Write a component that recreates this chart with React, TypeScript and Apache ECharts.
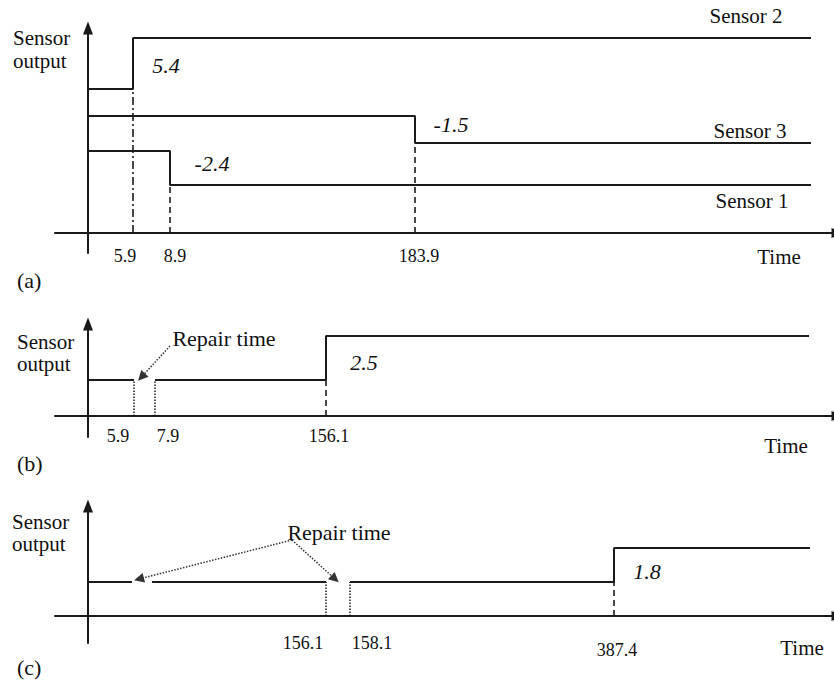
import React, { useEffect, useRef } from 'react';
import * as echarts from 'echarts';

// ---------------- DATA ----------------
// Panel (a): three sensors, each with one step change
const sensorNamesA = ['Sensor 1', 'Sensor 2', 'Sensor 3'];
const changeTimesA = [8.9, 5.9, 183.9];
const changeValuesA = ['-2.4', '5.4', '-1.5'];
// schematic (not-to-scale) output levels before / after the change
const levelBeforeA = [82, 144, 117];
const levelAfterA = [48, 195, 90];
const tickTimesA = [5.9, 8.9, 183.9];

// Panel (b): one repair, then one step change
const repairsB = [[5.9, 7.9]];
const changeTimeB = 156.1;
const changeValueB = '2.5';
const levelsB = [36, 80];
const tickTimesB = [5.9, 7.9, 156.1];

// Panel (c): two repairs, then one step change
const repairsC = [[5.9, 7.9], [156.1, 158.1]];
const changeTimeC = 387.4;
const changeValueC = '1.8';
const levelsC = [34, 68];
const tickTimesC = [156.1, 158.1, 387.4];

// ---------------- LAYOUT (schematic axis, not to scale) ----------------
const END = Infinity;
const FONT = 'Liberation Serif';
const INK = '#1a1a1a';

const panels = [
  { top: 28, axisY: 233, bottomY: 253, knots: [[0, 0], [5.9, 45], [8.9, 82], [183.9, 327]], end: 723 },
  { top: 324, axisY: 416, bottomY: 437, knots: [[0, 0], [5.9, 46], [7.9, 67], [156.1, 238]], end: 721 },
  { top: 506, axisY: 616, bottomY: 643, knots: [[0, 0], [5.9, 44], [7.9, 64], [156.1, 238], [158.1, 262], [387.4, 526]], end: 722 },
];

function X(p: number, t: number): number {
  const P = panels[p];
  if (t === END) return P.end;
  const k = P.knots;
  for (let i = 1; i < k.length; i++) {
    if (t <= k[i][0]) {
      const f = (t - k[i - 1][0]) / (k[i][0] - k[i - 1][0]);
      return k[i - 1][1] + f * (k[i][1] - k[i - 1][1]);
    }
  }
  return k[k.length - 1][1];
}

const dropStyleA: any[] = ['dashed', [8, 3, 2, 3], 'dashed'];
const jumpOffsetA = [[42, -5], [33, 2], [36, -5]];
const jumpOffsetB = [38, 4];
const jumpOffsetC = [33, 6];
const tickOffsets = [
  [[-8, 23], [5, 23], [4, 23]],
  [[-16, 20], [13, 20], [3, 20]],
  [[-23, 27], [22, 27], [3, 34]],
];
const markedRepairsB = [true];
const markedRepairsC = [false, true];
const arrowStartB = [82, 70];
const arrowStartC = [204, 76];
const arrowTipShift = [-3, 3];

const DASH = [6, 4];

function lineSeries(p: number, data: number[][], type: any = 'solid', width = 2) {
  return {
    type: 'line',
    xAxisIndex: p,
    yAxisIndex: p,
    data,
    symbol: 'none',
    silent: true,
    lineStyle: { color: INK, width, type },
    z: 3,
  };
}

function textSeries(p: number, items: { x: number; y: number; text: string; offset: number[] }[], italic: boolean, size: number) {
  return {
    type: 'scatter',
    xAxisIndex: p,
    yAxisIndex: p,
    symbolSize: 0,
    silent: true,
    itemStyle: { color: 'rgba(0,0,0,0)', opacity: 1 },
    data: items.map((it) => ({
      value: [it.x, it.y],
      name: it.text,
      label: { offset: it.offset },
    })),
    label: {
      show: true,
      position: 'inside',
      formatter: (d: any) => d.name,
      fontFamily: FONT,
      fontSize: size,
      fontStyle: italic ? 'italic' : 'normal',
      color: '#111',
      opacity: 1,
      textBorderWidth: 0,
    },
    z: 5,
  };
}

function repairPanelSeries(p: number, repairs: number[][], marked: boolean[], changeT: number, levels: number[]) {
  const s: any[] = [];
  const starts = [0, ...repairs.map((r) => r[1])];
  const ends = [...repairs.map((r) => r[0]), changeT];
  starts.forEach((st, i) => {
    const pts = [[X(p, st), levels[0]], [X(p, ends[i]), levels[0]]];
    if (i === starts.length - 1) {
      pts.push([X(p, changeT), levels[1]], [X(p, END), levels[1]]);
    }
    s.push(lineSeries(p, pts));
  });
  repairs.forEach((r, i) => {
    if (!marked[i]) return;
    r.forEach((t) => s.push(lineSeries(p, [[X(p, t), 0], [X(p, t), levels[0]]], 'dotted', 1.5)));
  });
  s.push(lineSeries(p, [[X(p, changeT), 0], [X(p, changeT), levels[0]]], DASH, 1.6));
  return s;
}

function arrowSeries(p: number, start: number[], repairs: number[][], level: number) {
  return {
    type: 'lines',
    coordinateSystem: 'cartesian2d',
    xAxisIndex: p,
    yAxisIndex: p,
    silent: true,
    symbol: ['none', 'triangle'],
    symbolSize: 10,
    lineStyle: { color: '#333', width: 1.5, type: 'dotted', opacity: 1, curveness: 0 },
    data: repairs.map((r) => ({
      coords: [start, [X(p, (r[0] + r[1]) / 2) + arrowTipShift[0], level + arrowTipShift[1]]],
    })),
    z: 4,
  };
}

function buildOption(): any {
  const series: any[] = [];

  // Panel (a)
  sensorNamesA.forEach((name, i) => {
    const t = changeTimesA[i];
    const b = levelBeforeA[i];
    const a = levelAfterA[i];
    series.push({ ...lineSeries(0, [[X(0, 0), b], [X(0, t), b], [X(0, t), a], [X(0, END), a]]), name });
    series.push(lineSeries(0, [[X(0, t), 0], [X(0, t), Math.min(a, b)]], dropStyleA[i] === 'dashed' ? DASH : dropStyleA[i], 1.6));
  });
  series.push(
    textSeries(0, sensorNamesA.map((_, i) => ({
      x: X(0, changeTimesA[i]),
      y: (levelBeforeA[i] + levelAfterA[i]) / 2,
      text: changeValuesA[i],
      offset: jumpOffsetA[i],
    })), true, 22)
  );
  series.push(textSeries(0, tickTimesA.map((t, i) => ({ x: X(0, t), y: 0, text: String(t), offset: tickOffsets[0][i] })), false, 18));

  // Panel (b)
  series.push(...repairPanelSeries(1, repairsB, markedRepairsB, changeTimeB, levelsB));
  series.push(textSeries(1, [{ x: X(1, changeTimeB), y: (levelsB[0] + levelsB[1]) / 2, text: changeValueB, offset: jumpOffsetB }], true, 22));
  series.push(textSeries(1, tickTimesB.map((t, i) => ({ x: X(1, t), y: 0, text: String(t), offset: tickOffsets[1][i] })), false, 18));
  series.push(arrowSeries(1, arrowStartB, repairsB, levelsB[0]));

  // Panel (c)
  series.push(...repairPanelSeries(2, repairsC, markedRepairsC, changeTimeC, levelsC));
  series.push(textSeries(2, [{ x: X(2, changeTimeC), y: (levelsC[0] + levelsC[1]) / 2, text: changeValueC, offset: jumpOffsetC }], true, 22));
  series.push(textSeries(2, tickTimesC.map((t, i) => ({ x: X(2, t), y: 0, text: String(t), offset: tickOffsets[2][i] })), false, 18));
  series.push(arrowSeries(2, arrowStartC, repairsC, levelsC[0]));

  const axisCommon = {
    type: 'value',
    axisTick: { show: false },
    axisLabel: { show: false },
    splitLine: { show: false },
  };

  const txt = (text: string, x: number, y: number, align: string, size = 21) => ({
    type: 'text',
    x,
    y,
    silent: true,
    style: { text, fontFamily: FONT, fontSize: size, fill: '#111', align, verticalAlign: 'middle' },
  });

  const graphics = [
    txt('Sensor', 13, 38, 'left'),
    txt('output', 13, 61, 'left'),
    txt('Sensor', 17, 342, 'left'),
    txt('output', 17, 364, 'left'),
    txt('Sensor', 12, 522, 'left'),
    txt('output', 12, 544, 'left'),
    txt('(a)', 17, 280, 'left', 22),
    txt('(b)', 17, 463, 'left', 22),
    txt('(c)', 17, 667, 'left', 22),
    txt('Sensor 2', 746, 16, 'center'),
    txt('Sensor 3', 750, 131, 'center'),
    txt('Sensor 1', 752, 201, 'center'),
    txt('Time', 779, 257, 'center'),
    txt('Time', 786, 446, 'center'),
    txt('Time', 802, 648, 'center'),
    txt('Repair time', 224, 338, 'center', 22),
    txt('Repair time', 339, 532, 'center', 22),
  ];

  return {
    animation: false,
    backgroundColor: '#fff',
    grid: panels.map((p) => ({
      left: 55,
      top: p.top,
      width: 783,
      height: p.bottomY - p.top,
      containLabel: false,
      outerBoundsMode: 'none',
    })),
    xAxis: panels.map((p, i) => ({
      ...axisCommon,
      gridIndex: i,
      min: -33,
      max: 750,
      axisLine: { show: true, onZero: true, symbol: ['none', 'triangle'], symbolSize: [10, 13], lineStyle: { color: INK, width: 2 } },
    })),
    yAxis: panels.map((p, i) => ({
      ...axisCommon,
      gridIndex: i,
      min: -(p.bottomY - p.axisY),
      max: p.axisY - p.top,
      axisLine: { show: true, onZero: true, symbol: ['none', 'triangle'], symbolSize: [10, 13], lineStyle: { color: INK, width: 2 } },
    })),
    graphic: graphics,
    series,
  };
}

export default function App() {
  const ref = useRef<HTMLDivElement>(null);
  useEffect(() => {
    const chart = echarts.init(ref.current!, null, { renderer: 'svg' });
    chart.setOption(buildOption());
    return () => chart.dispose();
  }, []);
  return (
    <div
      ref={ref}
      style={{ position: 'fixed', left: 0, top: 0, width: 834, height: 680, background: '#fff' }}
    />
  );
}
